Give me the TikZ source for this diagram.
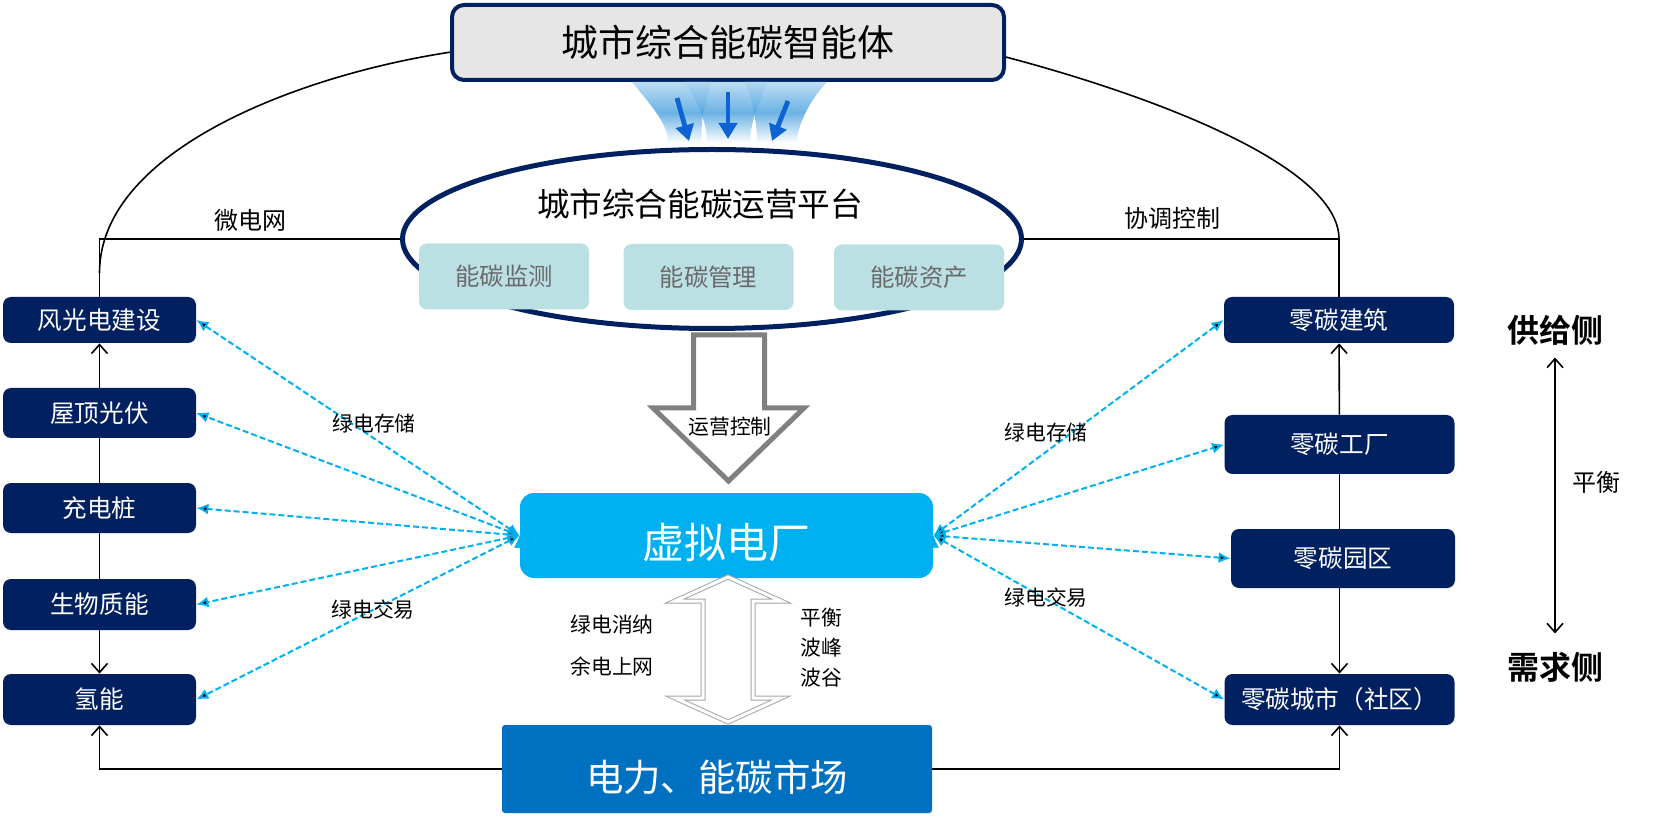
\documentclass[tikz,border=0pt]{standalone}
\usepackage{fontspec}
\setmainfont{Noto Sans CJK SC}[BoldFont={Noto Sans CJK SC Bold}]
\usetikzlibrary{arrows.meta,shapes.geometric,calc,positioning}

\definecolor{navy}{HTML}{002060}
\definecolor{vppblue}{HTML}{00B0F0}
\definecolor{mktblue}{HTML}{0070C0}
\definecolor{panelgray}{HTML}{E6E6E6}
\definecolor{tealbox}{HTML}{BBE0E3}
\definecolor{subtext}{HTML}{6A6A6A}
\definecolor{arrowgray}{HTML}{808080}
\definecolor{fanblue}{HTML}{3E9BDD}
\definecolor{fanarrow}{HTML}{0E62D2}

\tikzset{
    every node/.style={inner sep=0pt}, % boxes are sized by hand
    agentbox/.style={rectangle, rounded corners=6pt, draw=navy, line width=2pt,
        fill=panelgray, minimum width=276pt, minimum height=37.5pt,
        font=\fontsize{18.5}{20}\selectfont},
    subbox/.style={rectangle, rounded corners=4pt, fill=tealbox, text=subtext,
        minimum width=85pt, minimum height=33pt, font=\fontsize{12.2}{14}\selectfont},
    srcbox/.style={rectangle, rounded corners=4pt, fill=navy, text=white,
        minimum width=96.5pt, font=\fontsize{12.3}{14}\selectfont},
    loadbox/.style={srcbox, minimum width=115pt},
    tag/.style={font=\fontsize{10.4}{12}\selectfont},
    bigtag/.style={font=\fontsize{12}{14}\selectfont},
    flow/.style={draw=black, line width=0.8pt},
    flowtip/.style={-{Straight Barb[length=4.5pt,width=8pt]}},
    greenlink/.style={draw=vppblue, line width=1pt, dash pattern=on 3pt off 1.5pt,
        {Latex[length=6pt,width=5.5pt]}-{Latex[length=6pt,width=5.5pt]}},
    fan/.style={top color=fanblue!40, bottom color=white, middle color=fanblue!90, opacity=0.85},
    fanshaft/.style={draw=fanarrow, line width=2.4pt, -{Triangle[length=8pt,width=9pt]}},
}

\begin{document}
\begin{tikzpicture}[x=0.5pt, y=-0.5pt]
  \useasboundingbox (0,0) rectangle (1665,823);

  % top: agent and operating platform
  \node[agentbox] (agent) at (728,42.5) {城市综合能碳智能体};
  \node[ellipse, draw=navy, line width=2.5pt,
      minimum width=309.5pt, minimum height=89.5pt] (platform) at (712,239) {};
  \node[font=\fontsize{16.3}{18}\selectfont] (ptitle) at (700,204) {城市综合能碳运营平台};
  \node[subbox] (p_1) at (504,276.5) {能碳监测};
  \node[subbox] (p_2) at (708.5,277) {能碳管理};
  \node[subbox] (p_3) at (919,277.5) {能碳资产};

  % fan of arrows under the agent box
  \path[fan] (632,82) .. controls (655,110) and (668,125) .. (668,143)
      -- (702,143) .. controls (700,120) and (705,100) .. (712,82) -- cycle;
  \path[fan] (685,82) .. controls (700,105) and (707,125) .. (707,143)
      -- (750,143) .. controls (750,125) and (757,105) .. (768,82) -- cycle;
  \path[fan] (745,82) .. controls (752,100) and (757,120) .. (757,143)
      -- (797,143) .. controls (797,125) and (810,100) .. (827,82) -- cycle;
  \draw[fanshaft] (677,98) -- (689,141);
  \draw[fanshaft] (728,92) -- (728,139);
  \draw[fanshaft] (788,101) -- (772,141);

  % hollow arrow: operating control
  \draw[draw=arrowgray, line width=2.5pt, fill=white, line join=miter]
      (693.5,335) -- (693.5,408) -- (653,408) -- (728.5,481)
      -- (804,408) -- (764.5,408) -- (764.5,335) -- cycle;
  \node[tag] (ctrl) at (730,427) {运营控制};

  % virtual power plant and market
  \node[rectangle, rounded corners=7pt, fill=vppblue, text=white,
      minimum width=206.5pt, minimum height=42.5pt, text height=24.9pt, text depth=1.5pt,
      font=\fontsize{21}{24}\selectfont] (vpp) at (726.5,535.5) {虚拟电厂};
  \node[rectangle, rounded corners=1.5pt, fill=mktblue, text=white,
      minimum width=215pt, minimum height=44pt, text height=23.5pt, text depth=1.3pt,
      font=\fontsize{18.7}{21}\selectfont] (market) at (717,769) {电力、能碳市场};

  \draw[draw=arrowgray!70, line width=0.5pt, double=white, double distance=1.5pt, fill=white]
      (728,577) -- (781,601) -- (753,601) -- (753,698) -- (781,698) -- (728,722)
      -- (675,698) -- (703,698) -- (703,601) -- (675,601) -- cycle;
  \node[tag] (m_1) at (612,625) {绿电消纳};
  \node[tag] (m_2) at (612,667) {余电上网};
  \node[tag, anchor=west, align=left, font=\fontsize{10.4}{15}\selectfont] (m_3) at (800,648)
      {平衡\\波峰\\波谷};

  % supply side boxes
  \node[srcbox, minimum height=23pt]   (g_1) at (99.5,320)   {风光电建设};
  \node[srcbox, minimum height=25pt]   (g_2) at (99.5,413)   {屋顶光伏};
  \node[srcbox, minimum height=25pt]   (g_3) at (99.5,508)   {充电桩};
  \node[srcbox, minimum height=25.5pt] (g_4) at (99.5,604.5) {生物质能};
  \node[srcbox, minimum height=25.5pt] (g_5) at (99.5,699.5) {氢能};

  % demand side boxes
  \node[loadbox, minimum height=23pt]   (z_1) at (1339,320)    {零碳建筑};
  \node[loadbox, minimum height=29.5pt] (z_2) at (1339.5,444.5) {零碳工厂};
  \node[loadbox, minimum width=112pt, minimum height=29.5pt] (z_3) at (1343,558.5) {零碳园区};
  \node[loadbox, minimum height=25.5pt] (z_4) at (1339.5,699.5) {零碳城市（社区）};

  % chains
  \draw[flow, flowtip] (g_2) -- (g_1);
  \draw[flow] (g_2) -- (g_3);
  \draw[flow] (g_3) -- (g_4);
  \draw[flow, flowtip] (g_4) -- (g_5);
  \draw[flow, flowtip] (z_2) -- (z_1);
  \draw[flow] (z_2.south) -- (z_2.south |- z_3.north);
  \draw[flow, flowtip] (z_2.south |- z_3.south) -- (z_4.north);
  \draw[flow, flowtip] (market.west) -| (g_5.south);
  \draw[flow, flowtip] (market.east) -| (z_4.south);

  % links to the platform and agent
  \coordinate (arc_l) at (99.5,273);
  \draw[flow] (g_1.north) |- (platform.west);
  \draw[flow] (agent.182) .. controls (300,75) and (99.5,150) .. (arc_l);
  \draw[flow] (z_1.north) |- (platform.east);
  \draw[flow] (agent.357) .. controls (1150,95) and (1339,165) .. (z_1.north |- platform.east);
  \node[bigtag] (w_1) at (250,220) {微电网};
  \node[bigtag] (w_2) at (1172,218) {协调控制};

  % green power links
  \path[greenlink] (vpp.west) edge (g_1.east) edge (g_2.east) edge (g_3.east)
      edge (g_4.east) edge (g_5.east);
  \path[greenlink] (vpp.east) edge (z_1.west) edge (z_2.west) edge (z_3.west)
      edge (z_4.west);
  \node[tag] (t_1) at (374,424) {绿电存储};
  \node[tag] (t_2) at (373,610) {绿电交易};
  \node[tag] (t_3) at (1046,433) {绿电存储};
  \node[tag] (t_4) at (1046,598) {绿电交易};

  % supply / demand balance
  \node[font=\fontsize{16}{18}\selectfont\bfseries] (supply) at (1555,330) {供给侧};
  \node[font=\fontsize{16}{18}\selectfont\bfseries] (demand) at (1555,667) {需求侧};
  \draw[flow, {Straight Barb[length=4.5pt,width=8pt]}-{Straight Barb[length=4.5pt,width=8pt]},
      shorten <=6pt, shorten >=9pt] (supply.south) -- (demand.north);
  \node[bigtag] (bal) at (1596,482) {平衡};
\end{tikzpicture}
\end{document}
